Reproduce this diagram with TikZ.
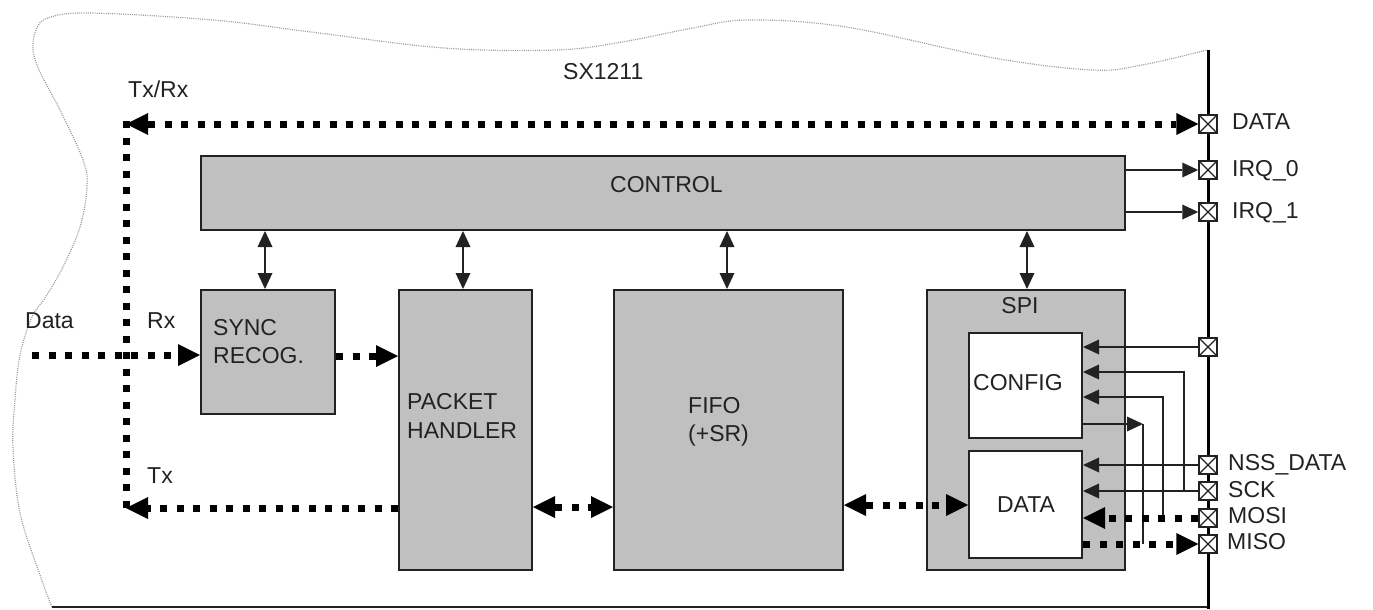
\documentclass[tikz,border=0pt]{standalone}
\usepackage{fontspec}
\setmainfont{Liberation Sans}
\usetikzlibrary{arrows.meta}
\definecolor{boxgray}{HTML}{C0C0C0}
\definecolor{ink}{HTML}{222222}
\begin{document}
\begin{tikzpicture}[x=1pt,y=-1pt,
  blk/.style={draw=ink, line width=2pt, fill=boxgray, inner sep=0pt, anchor=north west},
  wblk/.style={blk, fill=white},
  lbl/.style={anchor=base west, inner sep=0pt, text=ink, font=\fontsize{23}{27}\selectfont},
  clbl/.style={anchor=base, inner sep=0pt, text=ink, font=\fontsize{23}{27}\selectfont},
  pin/.style={draw=ink, line width=1.5pt, fill=white, minimum size=18pt, inner sep=0pt,
    path picture={\draw[ink, line width=1.1pt] (path picture bounding box.north west) -- (path picture bounding box.south east)
      (path picture bounding box.south west) -- (path picture bounding box.north east);}},
  wire/.style={line width=2pt, draw=ink},
  thinarr/.style={wire, -{Triangle[length=16pt,width=15pt,line width=0pt]}},
  thinbi/.style={wire, {Triangle[length=16pt,width=15pt,line width=0pt]}-{Triangle[length=16pt,width=15pt,line width=0pt]}},
  busline/.style={line width=7pt, draw=black, dash pattern=on 7pt off 9.5pt},
  bus/.style={busline, -{Triangle[length=22pt,width=22pt,line width=0pt]}},
  busbi/.style={busline, {Triangle[length=22pt,width=22pt,line width=0pt]}-{Triangle[length=22pt,width=22pt,line width=0pt]}}
]
\useasboundingbox (0,0) rectangle (1373,610);

% outline of the chip
\draw[gray!80, line width=1.2pt, dash pattern=on 1pt off 1.2pt]
  plot[smooth, tension=0.6] coordinates {(52,607) (40,575) (20,513) (13,447) (15,400) (20,355) (32,317) (45,298) (63,267) (80,227) (87,187) (83,160) (60,110) (40,72) (33,50) (36,30) (48,18) (89,13) (213,20) (311,32) (444,48) (556,50) (622,42) (693,28) (748,20) (846,27) (994,58) (1093,70) (1142,65) (1207,50)};
\draw[ink, line width=2pt] (52,607) -- (1208,607);
\draw[black, line width=3pt] (1208,50) -- (1208,608.5);

% blocks
\node[blk, minimum width=924pt, minimum height=74pt] (control) at (200,155) {};
\node[blk, minimum width=134pt, minimum height=124pt] (sync) at (200,289) {};
\node[blk, minimum width=133pt, minimum height=280pt] (packet) at (398,289) {};
\node[blk, minimum width=229pt, minimum height=280pt] (fifo) at (613,289) {};
\node[blk, minimum width=198pt, minimum height=280pt] (spi) at (926,289) {};
\node[wblk, minimum width=113pt, minimum height=105pt] (config) at (968,332) {};
\node[wblk, minimum width=113pt, minimum height=107pt] (data) at (968,450) {};

% texts
\node[lbl] (tsx) at (563,80) {SX1211};
\node[lbl] (ttxrx) at (128,97) {Tx/Rx};
\node[lbl] (tdata) at (25,328) {Data};
\node[lbl] (trx) at (147,328) {Rx};
\node[lbl] (ttx) at (147,483) {Tx};
\node[lbl] (tcontrol) at (610,192) {CONTROL};
\node[lbl] (tsync) at (213,335) {SYNC};
\node[lbl] (trecog) at (213,363) {RECOG.};
\node[lbl] (tpacket) at (407,409) {PACKET};
\node[lbl] (thandler) at (407,438) {HANDLER};
\node[lbl] (tfifo) at (688,413) {FIFO};
\node[lbl] (tsr) at (688,441) {(+SR)};
\node[clbl] (tspi) at (1020,313) {SPI};
\node[lbl] (tconfig) at (973,390) {CONFIG};
\node[clbl] (tdatab) at (1026,512) {DATA};

% pins
\node[pin] (pD) at (1208,124) {};
\node[pin] (pI0) at (1208,170) {};
\node[pin] (pI1) at (1208,212) {};
\node[pin] (pX) at (1208,347) {};
\node[pin] (pNSS) at (1208,465) {};
\node[pin] (pSCK) at (1208,491) {};
\node[pin] (pMOSI) at (1208,518) {};
\node[pin] (pMISO) at (1208,544) {};
\node[lbl] (lD) at (1232,129) {DATA};
\node[lbl] (lI0) at (1232,176) {IRQ\_0};
\node[lbl] (lI1) at (1232,218) {IRQ\_1};
\node[lbl] (lNSS) at (1228,470) {NSS\_DATA};
\node[lbl] (lSCK) at (1228,497) {SCK};
\node[lbl] (lMOSI) at (1228,523) {MOSI};
\node[lbl] (lMISO) at (1227,549) {MISO};

% control <-> blocks
\draw[thinbi] (control.south -| 265,0) -- (sync.north -| 265,0);
\draw[thinbi] (control.south -| 463,0) -- (packet.north -| 463,0);
\draw[thinbi] (control.south -| 727,0) -- (fifo.north -| 727,0);
\draw[thinbi] (control.south -| 1027,0) -- (spi.north -| 1027,0);
\draw[thinarr] (control.east |- pI0) -- (pI0.west);
\draw[thinarr] (control.east |- pI1) -- (pI1.west);

% data paths
\coordinate (trxc) at (126,124);
\coordinate (txc) at (126,508);
\coordinate (din) at (32,355);
\draw[busbi] (trxc) -- (pD.west);
\draw[busline] (126,121) -- (126,512);
\draw[bus] (din) -- (sync.west |- din);
\draw[bus] (sync.east |- 0,356) -- (packet.west |- 0,356);
\draw[bus] (packet.west |- txc) -- (txc);
\draw[busbi] (packet.east |- 0,507) -- (fifo.west |- 0,507);
\draw[busbi] (fifo.east |- 0,505) -- (data.west |- 0,505);

% SPI wiring
\coordinate (sckb) at (1184,491);
\coordinate (mosib) at (1163,518);
\coordinate (misob) at (1143,544);
\coordinate (cfgo) at (1143,424);
\draw[thinarr] (pX.west) -- (pX.west -| config.east);
\draw[thinarr] (pSCK.west) -- (pSCK.west -| data.east);
\draw[thinarr] (sckb) |- (config.east |- 0,372);
\draw[thinarr] (mosib) |- (config.east |- 0,397);
\draw[thinarr] (config.east |- cfgo) -- (cfgo);
\draw[wire] (cfgo) -- (misob);
\draw[thinarr] (pNSS.west) -- (pNSS.west -| data.east);
\draw[bus] (pMOSI.west) -- (pMOSI.west -| data.east);
\draw[bus] (data.east |- pMISO) -- (pMISO.west);
\end{tikzpicture}
\end{document}
